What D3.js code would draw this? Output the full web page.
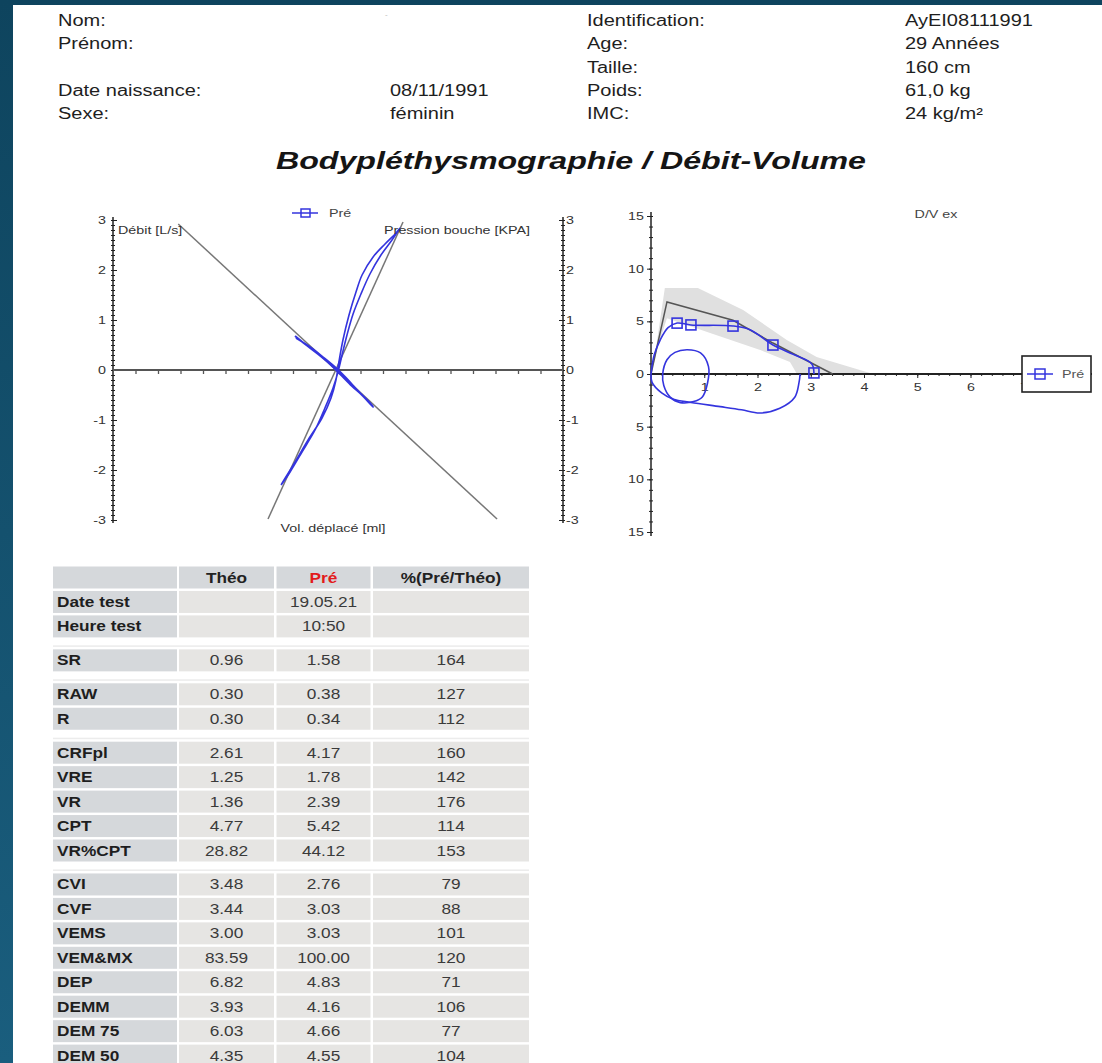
<!DOCTYPE html>
<html><head><meta charset="utf-8">
<script src="https://cdn.jsdelivr.net/npm/d3@7"></script>
<style>
html,body{margin:0;padding:0;background:#0f4660;}
svg{display:block;}
text{font-family:"Liberation Sans",Arial,sans-serif;}
</style></head><body>
<svg id="c" width="1102" height="1063"></svg>
<script>
// ---------------- DATA ----------------
const headerLeftLabels = ["Nom:", "Prénom:", "", "Date naissance:", "Sexe:"];
const headerLeftValues = ["", "", "", "08/11/1991", "féminin"];
const headerRightLabels = ["Identification:", "Age:", "Taille:", "Poids:", "IMC:"];
const headerRightValues = ["AyEI08111991", "29 Années", "160 cm", "61,0 kg", "24 kg/m²"];
const titleText = "Bodypléthysmographie / Débit-Volume";

// Left chart (resistance loops)
const leftYTicks = [-3, -2, -1, 0, 1, 2, 3];
const leftXTicks = [-9,-8,-7,-6,-5,-4,-3,-2,-1,0,1,2,3,4,5,6,7,8,9];
const theoLineShallow = [[-7.1, 2.92], [7.07, -2.98]];
const theoLineSteep = [[-3.11, -2.98], [2.89, 2.96]];
const preLoopSteep = [[-2.53,-2.30],[-2.13,-2.04],[-1.6,-1.64],[-1.02,-1.2],[-0.58,-0.76],[-0.22,-0.36],[0,-0.04],[0.18,0.3],[0.4,0.7],[0.67,1.12],[1.02,1.52],[1.42,1.92],[1.91,2.3],[2.4,2.6],[2.76,2.84],
  [2.58,2.74],[2.09,2.52],[1.56,2.26],[1.07,1.9],[0.8,1.56],[0.49,1.1],[0.22,0.6],[0.04,0.16],[-0.09,-0.2],[-0.31,-0.56],[-0.71,-0.96],[-1.33,-1.4],[-1.91,-1.84],[-2.4,-2.2],[-2.53,-2.30]];
const preLoopShallow = [[-1.91,0.68],[-1.47,0.52],[-0.89,0.32],[-0.36,0.12],[0.09,-0.08],[0.62,-0.32],[1.11,-0.52],[1.56,-0.74],
  [1.42,-0.66],[0.89,-0.42],[0.36,-0.16],[-0.09,0.04],[-0.62,0.24],[-1.24,0.46],[-1.87,0.64]];

// Right chart (flow-volume)
const dvYTicks = [-15, -10, -5, 0, 5, 10, 15];
const dvXTicks = [1, 2, 3, 4, 5, 6, 7, 8];
const dvBand = [[0.05,1.0],[0.26,8.17],[0.88,8.17],[1.73,6.08],[2.55,3.23],[3.11,1.61],[4.11,0.1],[4.15,0],
  [2.74,0],[2.61,1.14],[2.05,2.28],[1.11,3.9],[0.3,5.3],[0.12,2.5]];
const dvTheo = [[0,0],[0.3,6.84],[1.54,5.1],[2.29,2.94],[3.41,0]];
const dvExp = [[0,0],[0.06,1.8],[0.17,3.2],[0.32,4.4],[0.49,4.84],[0.75,4.65],[1.54,4.56],[1.86,4.2],[2.29,2.75],[2.7,1.8],[3.02,0.95],[3.06,0]];
const dvInsp = [[0,0],[0.02,-0.8],[0.2,-1.8],[0.42,-2.4],[0.75,-2.7],[1.3,-3.1],[1.7,-3.4],[2.05,-3.7],[2.42,-3.25],[2.7,-2.2],[2.78,-0.8],[2.8,0]];
const dvTidal = [[0.22,0],[0.3,1.35],[0.45,2.05],[0.68,2.3],[0.93,2.0],[1.08,0.7],[1.06,-0.9],[0.96,-2.2],[0.8,-2.62],[0.55,-2.72],[0.36,-2.2],[0.24,-1.1]];
const dvMarkers = [[0.49,4.83],[0.75,4.66],[1.54,4.55],[2.29,2.75],[3.06,0.1]];

// Table
const tableHead = ["", "Théo", "Pré", "%(Pré/Théo)"];
const rowLabels = ["Date test","Heure test","SR","RAW","R","CRFpl","VRE","VR","CPT","VR%CPT","CVI","CVF","VEMS","VEM&MX","DEP","DEMM","DEM 75","DEM 50"];
const theoVals = ["","","0.96","0.30","0.30","2.61","1.25","1.36","4.77","28.82","3.48","3.44","3.00","83.59","6.82","3.93","6.03","4.35"];
const preVals = ["19.05.21","10:50","1.58","0.38","0.34","4.17","1.78","2.39","5.42","44.12","2.76","3.03","3.03","100.00","4.83","4.16","4.66","4.55"];
const pctVals = ["","","164","127","112","160","142","176","114","153","79","88","101","120","71","106","77","104"];
const rowGroups = [0,0,1,2,2,3,3,3,3,3,4,4,4,4,4,4,4,4];

// ---------------- DRAW ----------------
const svg = d3.select("#c");
const BLUE = "#3434de";
const SX = 1.3; // horizontal stretch of small chart text
const defs = svg.append("defs");
const g0 = defs.append("linearGradient").attr("id","bg").attr("x1",0).attr("y1",0).attr("x2",0).attr("y2",1);
g0.append("stop").attr("offset","0%").attr("stop-color","#0e445e");
g0.append("stop").attr("offset","100%").attr("stop-color","#1a5e7e");
svg.append("rect").attr("width",1102).attr("height",1063).attr("fill","url(#bg)");
svg.append("rect").attr("x",13).attr("y",5).attr("width",1089).attr("height",1058).attr("fill","#ffffff");

function stext(parent, x, y, str, sx){
  return parent.append("text").attr("transform",`translate(${x},${y}) scale(${sx},1)`).text(str);
}

// Header
const hy = d3.scaleLinear().domain([0,4]).range([26,119]);
const hdr = svg.append("g").attr("font-size",16).attr("fill","#1e1e1e");
const HS = 1.25;
hdr.selectAll(".ll").data(headerLeftLabels).join("text").attr("transform",(d,i)=>`translate(58,${hy(i)}) scale(${HS},1)`).text(d=>d);
hdr.selectAll(".lv").data(headerLeftValues).join("text").attr("transform",(d,i)=>`translate(390,${hy(i)}) scale(${HS},1)`).text(d=>d);
hdr.selectAll(".rl").data(headerRightLabels).join("text").attr("transform",(d,i)=>`translate(587,${hy(i)}) scale(${HS},1)`).text(d=>d);
hdr.selectAll(".rv").data(headerRightValues).join("text").attr("transform",(d,i)=>`translate(905,${hy(i)}) scale(${HS},1)`).text(d=>d);
svg.append("text").attr("x",385).attr("y",17).attr("font-size",8).attr("fill","#bbb").text("-");

svg.append("text").attr("x",276).attr("y",169)
  .attr("font-size",24).attr("font-weight","bold").attr("font-style","italic").attr("fill","#151515")
  .attr("textLength",590).attr("lengthAdjust","spacingAndGlyphs").text(titleText);

// ---------- Left chart ----------
const xL = d3.scaleLinear().domain([-10,10]).range([113,563]);
const yL = d3.scaleLinear().domain([-3,3]).range([520,220]);
const L = svg.append("g");
const line = (xs, ys, curve) => d3.line().x(d=>xs(d[0])).y(d=>ys(d[1])).curve(curve || d3.curveLinear);

function cleanAxis(sel){
  sel.select(".domain").remove();
  sel.selectAll(".tick line").attr("stroke","#222");
  sel.selectAll("text").attr("font-family","Liberation Sans, Arial, sans-serif").attr("fill","#333");
}
function stretchTicks(sel){
  sel.selectAll(".tick text").each(function(){
    const t = d3.select(this);
    const x = +t.attr("x") || 0;
    t.attr("x", x / SX).attr("transform", `scale(${SX},1)`);
  });
}

// minor ticks
const minorL = d3.range(-30,31).map(v=>v/10);
L.append("g").attr("transform","translate(113,0)").call(d3.axisLeft(yL).tickValues(minorL).tickSize(2).tickFormat("")).call(cleanAxis);
L.append("g").attr("transform","translate(113,0)").call(d3.axisRight(yL).tickValues(minorL).tickSize(2).tickFormat("")).call(cleanAxis);
L.append("g").attr("transform","translate(563,0)").call(d3.axisLeft(yL).tickValues(minorL).tickSize(2).tickFormat("")).call(cleanAxis);
L.append("g").attr("transform","translate(563,0)").call(d3.axisRight(yL).tickValues(minorL).tickSize(2).tickFormat("")).call(cleanAxis);
// major ticks
L.append("g").attr("transform","translate(113,0)").call(d3.axisRight(yL).tickValues(leftYTicks).tickSize(4).tickFormat("")).call(cleanAxis);
L.append("g").attr("transform","translate(563,0)").call(d3.axisLeft(yL).tickValues(leftYTicks).tickSize(4).tickFormat("")).call(cleanAxis);
// labels
L.append("g").attr("transform","translate(113,0)").call(d3.axisLeft(yL).tickValues(leftYTicks).tickSize(0).tickPadding(7).tickFormat(d=>String(d))).call(cleanAxis).call(stretchTicks).attr("font-size",11);
L.append("g").attr("transform","translate(563,0)").call(d3.axisRight(yL).tickValues(leftYTicks).tickSize(0).tickPadding(3).tickFormat(d=>String(d))).call(cleanAxis).call(stretchTicks).attr("font-size",11);
// x axis
L.append("g").attr("transform",`translate(0,${yL(0)})`).call(d3.axisBottom(xL).tickValues(leftXTicks).tickSize(4).tickFormat("")).call(cleanAxis).selectAll(".tick line").attr("stroke","#555").attr("stroke-width",1.3);
L.append("line").attr("x1",113).attr("x2",113).attr("y1",yL(3)-3).attr("y2",yL(-3)+3).attr("stroke","#222").attr("stroke-width",1.5);
L.append("line").attr("x1",563).attr("x2",563).attr("y1",yL(3)-3).attr("y2",yL(-3)+3).attr("stroke","#222").attr("stroke-width",1.5);
L.append("line").attr("x1",113).attr("x2",563).attr("y1",yL(0)).attr("y2",yL(0)).attr("stroke","#555").attr("stroke-width",2);

L.append("path").attr("d",line(xL,yL)(theoLineShallow)).attr("stroke","#777").attr("stroke-width",1.5).attr("fill","none");
L.append("path").attr("d",line(xL,yL)(theoLineSteep)).attr("stroke","#777").attr("stroke-width",1.5).attr("fill","none");
L.append("path").attr("d",line(xL,yL,d3.curveCatmullRom)(preLoopSteep)).attr("stroke",BLUE).attr("stroke-width",1.6).attr("fill","none");
L.append("path").attr("d",line(xL,yL,d3.curveCatmullRom)(preLoopShallow)).attr("stroke",BLUE).attr("stroke-width",2).attr("fill","none");

const lt = L.append("g").attr("font-size",11).attr("fill","#333");
stext(lt,118,234,"Débit [L/s]",SX);
stext(lt,530,234,"Pression bouche [KPA]",SX).attr("text-anchor","end");
stext(lt,333,532,"Vol. déplacé [ml]",SX).attr("text-anchor","middle");
// legend
L.append("line").attr("x1",292).attr("x2",318).attr("y1",213).attr("y2",213).attr("stroke",BLUE).attr("stroke-width",1.5);
L.append("rect").attr("x",301).attr("y",209).attr("width",9).attr("height",8).attr("fill","none").attr("stroke",BLUE).attr("stroke-width",1.5);
stext(L.append("g").attr("font-size",11).attr("fill","#444"),329,217,"Pré",SX);

// ---------- Right chart ----------
const xR = d3.scaleLinear().domain([0,8]).range([651,1077]);
const yR = d3.scaleLinear().domain([-15,15]).range([532,216]);
const R = svg.append("g");
R.append("path").attr("d",line(xR,yR)(dvBand)+"Z").attr("fill","#e0e0e0").attr("stroke","none");

const minorRY = d3.range(-15,16);
R.append("g").attr("transform","translate(651,0)").call(d3.axisLeft(yR).tickValues(minorRY).tickSize(2).tickFormat("")).call(cleanAxis);
R.append("g").attr("transform","translate(651,0)").call(d3.axisRight(yR).tickValues(minorRY).tickSize(2).tickFormat("")).call(cleanAxis);
R.append("g").attr("transform","translate(651,0)").call(d3.axisLeft(yR).tickValues(dvYTicks).tickSize(4).tickPadding(3).tickFormat(d=>String(Math.abs(d)))).call(cleanAxis).call(stretchTicks).attr("font-size",11);
const minorRX = d3.range(1,41).map(v=>v/5);
R.append("g").attr("transform",`translate(0,${yR(0)})`).call(d3.axisBottom(xR).tickValues(minorRX).tickSize(2).tickFormat("")).call(cleanAxis);
R.append("g").attr("transform",`translate(0,${yR(0)})`).call(d3.axisBottom(xR).tickValues(dvXTicks).tickSize(4).tickPadding(5).tickFormat(d=>String(d))).call(cleanAxis).call(stretchTicks).attr("font-size",11);
R.append("line").attr("x1",651).attr("x2",651).attr("y1",212).attr("y2",536).attr("stroke","#222").attr("stroke-width",1.5);
R.append("line").attr("x1",651).attr("x2",1092).attr("y1",yR(0)).attr("y2",yR(0)).attr("stroke","#222").attr("stroke-width",1.8);

R.append("path").attr("d",line(xR,yR)(dvTheo)).attr("stroke","#555").attr("stroke-width",1.5).attr("fill","none");
R.append("path").attr("d",line(xR,yR,d3.curveCatmullRom)(dvExp)).attr("stroke",BLUE).attr("stroke-width",1.6).attr("fill","none");
R.append("path").attr("d",line(xR,yR,d3.curveCatmullRom)(dvInsp)).attr("stroke",BLUE).attr("stroke-width",1.6).attr("fill","none");
R.append("path").attr("d",line(xR,yR,d3.curveCatmullRomClosed)(dvTidal)).attr("stroke",BLUE).attr("stroke-width",1.6).attr("fill","none");
R.selectAll(".mk").data(dvMarkers).join("rect")
  .attr("x",d=>xR(d[0])-5).attr("y",d=>yR(d[1])-5).attr("width",10).attr("height",10)
  .attr("fill","none").attr("stroke",BLUE).attr("stroke-width",1.6);
stext(R.append("g").attr("font-size",11).attr("fill","#444"),936,218,"D/V ex",SX).attr("text-anchor","middle");
// legend box
R.append("rect").attr("x",1022).attr("y",356).attr("width",69).attr("height",36).attr("fill","#fff").attr("stroke","#222").attr("stroke-width",1.6);
R.append("line").attr("x1",1027).attr("x2",1053).attr("y1",374).attr("y2",374).attr("stroke",BLUE).attr("stroke-width",1.5);
R.append("rect").attr("x",1035).attr("y",369).attr("width",10).attr("height",10).attr("fill","none").attr("stroke",BLUE).attr("stroke-width",1.5);
stext(R.append("g").attr("font-size",11).attr("fill","#555"),1062,378,"Pré",SX);

// ---------- Table ----------
const colX = [53, 179, 276.5, 373];
const colW = [124, 95, 94, 156];
const TS = 1.15;
const rowTop = (i, grp) => 566.5 + 24.45*i + 9.5*grp;
const T = svg.append("g").attr("font-size",15);
// header row
T.selectAll(".hc").data(tableHead).join("rect")
  .attr("x",(d,i)=>colX[i]).attr("y",566.5).attr("width",(d,i)=>colW[i]).attr("height",22).attr("fill","#d5d8db");
T.selectAll(".ht").data(tableHead).join("text")
  .attr("transform",(d,i)=>`translate(${colX[i]+colW[i]/2},583) scale(${TS},1)`).attr("text-anchor","middle").attr("font-weight","bold")
  .attr("fill",(d,i)=>i===2?"#e21b1b":"#222").text(d=>d);
// group separators
[1,2,3,4].forEach(g=>{
  const first = rowGroups.indexOf(g);
  T.append("rect").attr("x",53).attr("y",rowTop(first+1,g)-4).attr("width",476).attr("height",1.5).attr("fill","#ececec");
});
rowLabels.forEach((lab,i)=>{
  const top = rowTop(i+1, rowGroups[i]);
  const vals = [lab, theoVals[i], preVals[i], pctVals[i]];
  vals.forEach((v,c)=>{
    T.append("rect").attr("x",colX[c]).attr("y",top).attr("width",colW[c]).attr("height",22)
      .attr("fill", c===0 ? "#d5d8db" : "#e6e5e3");
    const tx = c===0 ? 57 : colX[c]+colW[c]/2;
    T.append("text").attr("transform",`translate(${tx},${top+16}) scale(${TS},1)`)
      .attr("text-anchor", c===0 ? "start" : "middle")
      .attr("font-weight", c===0 ? "bold" : "normal")
      .attr("fill", c===0 ? "#1e1e1e" : "#3a3a3a").text(v);
  });
});
</script></body></html>
